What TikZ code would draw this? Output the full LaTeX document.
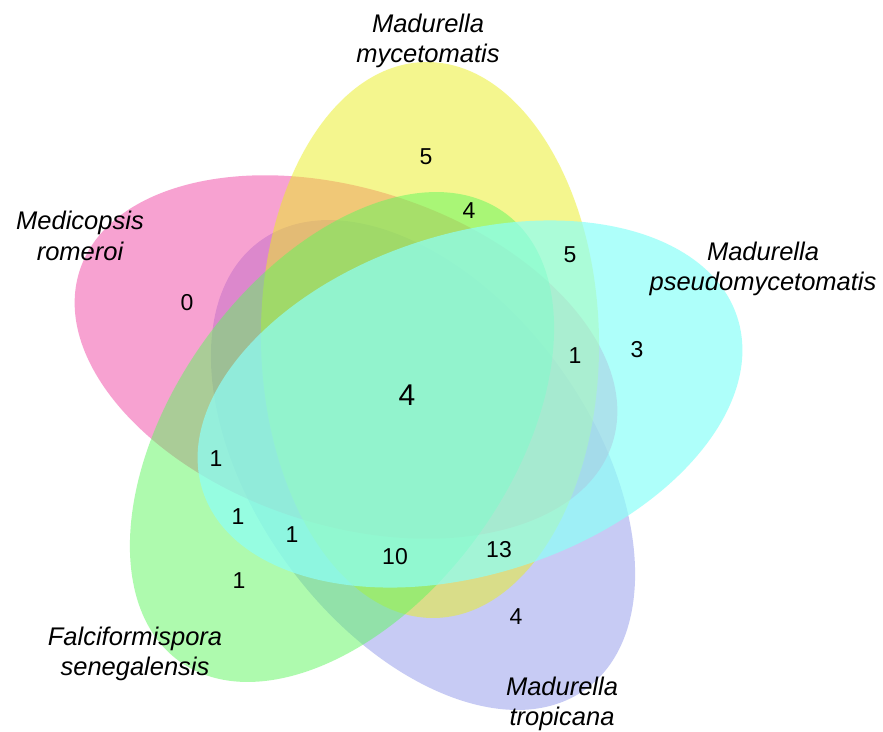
\documentclass[tikz,border=0pt]{standalone}
\usepackage{fontspec}
\setmainfont{Liberation Sans}
\definecolor{cpink}{RGB}{241,71,165}
\definecolor{cyellow}{RGB}{235,239,31}
\definecolor{ccyan}{RGB}{141,255,248}
\definecolor{cgreen}{RGB}{95,247,95}
\definecolor{cpurple}{RGB}{145,153,235}
\begin{document}
\begin{tikzpicture}[x=1pt,y=1pt,
  petal/.style={fill opacity=0.5},
  toppetal/.style={fill opacity=0.7},
  setname/.style={font=\fontsize{25.5}{30.5}\selectfont\itshape, align=center, inner sep=0pt},
  count/.style={font=\fontsize{23}{26}\selectfont, inner sep=0pt},
  bigcount/.style={font=\fontsize{30}{32}\selectfont, inner sep=0pt}]
\fill[white] (0,0) rectangle (883,-731);
\useasboundingbox (0,0) rectangle (883,-731);
% ellipses, bottom to top
\fill[cpurple, petal, rotate around={126:(423,-465)}] (423,-465) ellipse [x radius=277, y radius=168];
\fill[cpink, petal, rotate around={162:(346,-357)}] (346,-357) ellipse [x radius=280, y radius=168];
\fill[cyellow, petal, rotate around={91:(430,-340)}] (430,-340) ellipse [x radius=278, y radius=169];
\fill[cgreen, petal, rotate around={54:(342,-437)}] (342,-437) ellipse [x radius=277, y radius=168];
\fill[ccyan, toppetal, rotate around={18:(470,-404)}] (470,-404) ellipse [x radius=281, y radius=170];
% set names
\node[setname] (mmyc) at (428,-41) {Madurella\\mycetomatis};
\node[setname] (mrom) at (80,-236) {Medicopsis\\romeroi};
\node[setname] (mpse) at (763,-269) {Madurella\\pseudomycetomatis};
\node[setname] (fsen) at (135,-654) {Falciformispora\\senegalensis};
\node[setname] (mtro) at (562,-704) {Madurella\\tropicana};
% counts
\node[count] (n1) at (426,-157) {5};
\node[count] (n2) at (469,-211) {4};
\node[count] (n3) at (570,-255) {5};
\node[count] (n4) at (187,-303) {0};
\node[count] (n5) at (575,-356) {1};
\node[count] (n6) at (637,-350) {3};
\node[bigcount] (n7) at (407,-395) {4};
\node[count] (n8) at (216,-459) {1};
\node[count] (n9) at (238,-517) {1};
\node[count] (n10) at (292,-535) {1};
\node[count] (n11) at (395,-557) {10};
\node[count] (n12) at (499,-550) {13};
\node[count] (n13) at (239,-581) {1};
\node[count] (n14) at (516,-617) {4};
\end{tikzpicture}
\end{document}
